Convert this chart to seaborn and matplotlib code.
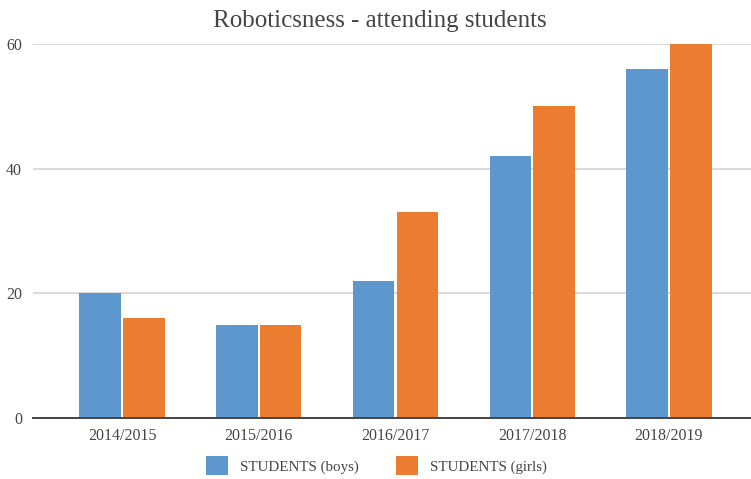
import matplotlib
matplotlib.use("Agg")
import matplotlib.pyplot as plt
import seaborn as sns
import pandas as pd

years = ["2014/2015", "2015/2016", "2016/2017", "2017/2018", "2018/2019"]
boys = [20, 15, 22, 42, 56]
girls = [16, 15, 33, 50, 60]
series_names = ["STUDENTS (boys)", "STUDENTS (girls)"]
yticks = [0, 20, 40, 60]

df = pd.DataFrame({
    "year": years * 2,
    "count": boys + girls,
    "series": [series_names[0]] * len(years) + [series_names[1]] * len(years),
})

sns.set_theme(style="white")
plt.rcParams["font.family"] = ["Liberation Serif", "DejaVu Serif"]

fig = plt.figure(figsize=(7.51, 4.79), dpi=100)
ax = fig.add_axes([33 / 751, 61 / 479, 718 / 751, 374 / 479])

palette = {series_names[0]: "#5E97CD", series_names[1]: "#EC7C30"}
sns.barplot(data=df, x="year", y="count", hue="series", order=years,
            hue_order=series_names, palette=palette, width=0.64, gap=0.05,
            saturation=1, edgecolor="none", ax=ax, legend=True)

ax.set_xlim(-0.651, 4.6)
ax.set_ylim(0, 60)
ax.set_yticks(yticks)
ax.yaxis.grid(True, color="#d9d9d9", linewidth=1.4)
ax.set_axisbelow(True)
for p in ax.patches:
    p.set_clip_on(False)
for s in ["top", "right", "left"]:
    ax.spines[s].set_visible(False)
ax.spines["bottom"].set_color("#444444")
ax.spines["bottom"].set_linewidth(1.4)
ax.tick_params(axis="both", length=0, labelsize=11.5, colors="#444444")
ax.tick_params(axis="x", pad=7)
ax.tick_params(axis="y", pad=8)
ax.set_xlabel("")
ax.set_ylabel("")

handles, labels = ax.get_legend_handles_labels()
ax.get_legend().remove()
fig.legend(handles, labels, loc="center", bbox_to_anchor=(0.501, 0.028),
           ncol=2, frameon=False, fontsize=10.8, handlelength=1.5,
           handleheight=1.5, columnspacing=2.5, handletextpad=0.75,
           labelcolor="#444444")

fig.text(0.506, 0.957, "Roboticsness - attending students", ha="center",
         va="center", fontsize=18, color="#444444")

fig.savefig("out.png", dpi=100)
